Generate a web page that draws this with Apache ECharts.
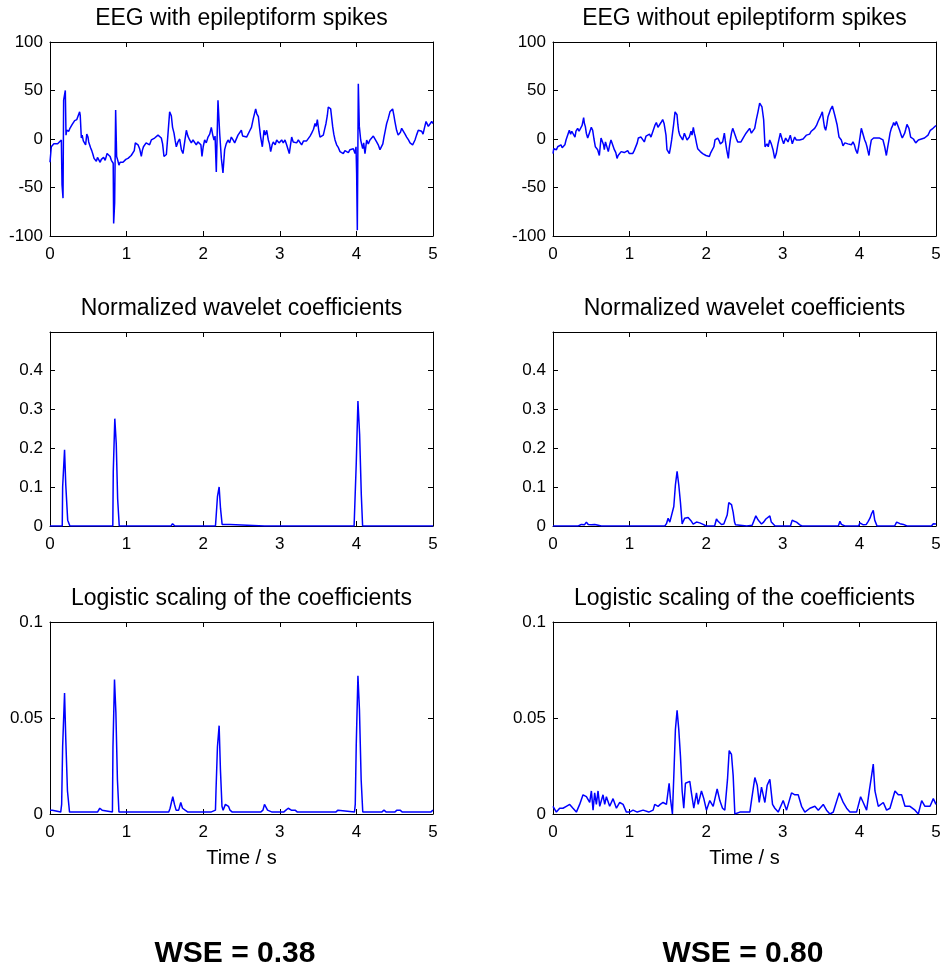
<!DOCTYPE html>
<html><head><meta charset="utf-8">
<script src="https://cdn.jsdelivr.net/npm/echarts@6/dist/echarts.min.js"></script>
<style>html,body{margin:0;padding:0;background:#fff}#c{width:944px;height:971px}</style>
</head><body><div id="c"></div>
<script>
// ---- data (time in s, value) ----
const eegSpikes = [[0,-24],[0.017,-8],[0.05,-5],[0.1,-5],[0.148,-1],[0.157,-47],[0.170,-61],[0.178,40],[0.200,50],[0.209,4],[0.218,9],[0.226,7],[0.235,10],[0.245,8],[0.26,11],[0.279,12],[0.29,15],[0.30,13],[0.322,19],[0.335,17],[0.35,20],[0.362,22],[0.375,21],[0.387,28],[0.395,24],[0.409,1],[0.42,4],[0.435,-2],[0.453,-1],[0.465,-6],[0.48,5],[0.496,2],[0.505,-3],[0.518,-5],[0.53,-9],[0.545,-12],[0.561,-16],[0.575,-20],[0.59,-18],[0.605,-23],[0.62,-19],[0.64,-20],[0.655,-24],[0.67,-21],[0.685,-23],[0.70,-19],[0.72,-22],[0.735,-20],[0.745,-15],[0.757,-13],[0.77,-15],[0.785,-18],[0.801,-22],[0.815,-20],[0.825,-25],[0.831,-87],[0.844,-66],[0.857,30],[0.870,-18],[0.885,-22],[0.9,-27],[0.915,-24],[0.93,-26],[0.953,-24],[0.97,-22],[0.99,-21],[1.018,-20],[1.04,-19],[1.06,-17],[1.084,-18],[1.1,-12],[1.114,-4],[1.13,-3],[1.149,-6],[1.17,-10],[1.192,-18],[1.205,-12],[1.22,-8],[1.236,-6],[1.255,-4],[1.279,-3],[1.3,-6],[1.323,-1],[1.345,-2],[1.366,1],[1.39,0],[1.410,4],[1.43,2],[1.453,1],[1.47,-5],[1.488,-18],[1.519,-16],[1.54,5],[1.562,28],[1.584,24],[1.60,12],[1.619,6],[1.635,-2],[1.649,-8],[1.67,-3],[1.693,0],[1.715,-11],[1.736,-15],[1.76,-2],[1.780,9],[1.80,3],[1.823,-1],[1.845,-4],[1.867,-1],[1.89,-3],[1.910,-6],[1.93,-3],[1.954,-1],[1.97,-6],[1.984,-18],[2.0,-8],[2.019,-1],[2.04,-4],[2.063,2],[2.085,5],[2.106,12],[2.125,4],[2.141,-1],[2.155,3],[2.171,-34],[2.193,40],[2.215,6],[2.237,-20],[2.258,-35],[2.280,-11],[2.30,-5],[2.324,-1],[2.345,-4],[2.367,2],[2.39,-1],[2.411,-4],[2.43,-6],[2.454,4],[2.475,6],[2.498,9],[2.515,3],[2.533,5],[2.567,2],[2.59,4],[2.611,9],[2.63,12],[2.654,21],[2.685,31],[2.700,26],[2.720,23],[2.735,12],[2.750,2],[2.772,-8],[2.794,9],[2.81,4],[2.829,9],[2.850,-1],[2.865,-5],[2.881,-13],[2.9,-6],[2.915,-3],[2.94,-6],[2.959,-1],[2.99,-4],[3.024,-1],[3.045,-4],[3.068,-1],[3.089,-6],[3.124,-15],[3.14,-6],[3.155,2],[3.175,-3],[3.198,-1],[3.22,-4],[3.242,-1],[3.265,-3],[3.285,-6],[3.31,-2],[3.329,-4],[3.35,-2],[3.372,-1],[3.395,3],[3.416,6],[3.44,10],[3.460,16],[3.475,13],[3.490,20],[3.51,8],[3.525,2],[3.545,0],[3.568,4],[3.585,10],[3.603,16],[3.62,24],[3.633,33],[3.664,31],[3.690,13],[3.705,5],[3.721,-1],[3.742,-6],[3.765,-9],[3.786,-13],[3.81,-11],[3.829,-15],[3.85,-12],[3.873,-11],[3.895,-14],[3.916,-11],[3.94,-13],[3.960,-10],[3.982,-15],[3.995,-8],[4.003,-35],[4.012,-94],[4.025,57],[4.038,13],[4.056,-1],[4.07,-6],[4.082,-10],[4.095,-4],[4.112,-15],[4.134,-1],[4.155,-5],[4.177,-1],[4.2,1],[4.221,3],[4.24,1],[4.264,-3],[4.285,-6],[4.308,-11],[4.330,-13],[4.345,-5],[4.360,2],[4.38,10],[4.395,16],[4.415,21],[4.438,28],[4.473,31],[4.49,24],[4.503,18],[4.525,9],[4.545,4],[4.560,2],[4.575,7],[4.591,11],[4.612,9],[4.635,5],[4.656,2],[4.68,-1],[4.700,-4],[4.734,-6],[4.765,-1],[4.785,4],[4.808,9],[4.83,10],[4.852,8],[4.87,5],[4.887,11],[4.909,18],[4.939,13],[4.96,15],[4.983,18],[5.0,16]];

const eegNoSpikes = [[0,-15],[0.01,-10],[0.03,-9],[0.045,-11],[0.061,-8],[0.08,-9],[0.104,-6],[0.12,-9],[0.139,-10],[0.155,-6],[0.170,-1],[0.192,1],[0.213,9],[0.23,5],[0.245,8],[0.257,6],[0.27,8],[0.287,2],[0.30,8],[0.322,11],[0.34,8],[0.366,9],[0.38,14],[0.400,22],[0.41,16],[0.422,13],[0.435,6],[0.453,1],[0.47,5],[0.487,9],[0.50,12],[0.518,9],[0.535,0],[0.553,-8],[0.568,-6],[0.583,-11],[0.605,-17],[0.627,1],[0.648,-1],[0.660,-6],[0.670,-11],[0.685,-3],[0.701,-5],[0.722,-13],[0.74,-6],[0.757,-1],[0.779,-1],[0.801,-11],[0.82,-14],[0.836,-20],[0.850,-17],[0.866,-15],[0.89,-13],[0.909,-11],[0.93,-14],[0.953,-13],[0.975,-12],[0.997,-15],[1.02,-13],[1.040,-15],[1.06,-12],[1.084,-10],[1.1,-4],[1.114,1],[1.13,-1],[1.149,2],[1.17,0],[1.192,-3],[1.215,3],[1.236,2],[1.26,5],[1.279,2],[1.3,7],[1.314,9],[1.33,14],[1.349,17],[1.37,12],[1.388,13],[1.41,17],[1.432,20],[1.45,16],[1.462,18],[1.475,4],[1.488,-11],[1.505,-13],[1.519,-15],[1.535,-8],[1.549,-1],[1.575,15],[1.593,28],[1.619,25],[1.63,15],[1.641,8],[1.655,4],[1.671,2],[1.693,-1],[1.715,6],[1.735,2],[1.750,-1],[1.765,-3],[1.780,2],[1.802,8],[1.815,4],[1.832,12],[1.845,6],[1.858,2],[1.875,-5],[1.889,-10],[1.905,-8],[1.923,-13],[1.94,-11],[1.954,-15],[1.975,-14],[1.997,-17],[2.02,-16],[2.041,-18],[2.06,-14],[2.084,-15],[2.1,-8],[2.115,-1],[2.150,1],[2.17,-2],[2.185,-5],[2.215,-3],[2.237,6],[2.25,-2],[2.267,-11],[2.289,-20],[2.30,-10],[2.315,-1],[2.33,6],[2.346,11],[2.36,8],[2.376,6],[2.395,0],[2.411,-3],[2.43,-5],[2.454,-3],[2.47,-1],[2.489,2],[2.505,4],[2.520,6],[2.54,7],[2.567,11],[2.59,6],[2.611,8],[2.633,11],[2.654,20],[2.676,28],[2.698,37],[2.728,33],[2.750,20],[2.768,-8],[2.794,-5],[2.81,-8],[2.829,-1],[2.850,-5],[2.872,-11],[2.894,-20],[2.915,-15],[2.937,-5],[2.968,6],[2.994,-1],[3.011,-5],[3.037,1],[3.068,-3],[3.098,4],[3.124,-5],[3.155,2],[3.175,-1],[3.198,1],[3.22,-1],[3.242,1],[3.265,0],[3.285,1],[3.31,4],[3.329,6],[3.35,5],[3.372,8],[3.395,9],[3.416,11],[3.44,14],[3.460,18],[3.475,16],[3.490,23],[3.516,28],[3.533,18],[3.545,12],[3.560,9],[3.575,15],[3.590,23],[3.621,30],[3.647,34],[3.677,25],[3.708,15],[3.734,2],[3.764,-1],[3.786,-7],[3.81,-4],[3.829,-3],[3.85,-5],[3.873,-3],[3.895,-6],[3.916,-3],[3.935,-6],[3.951,-11],[3.973,-15],[3.99,-8],[4.003,-1],[4.025,11],[4.047,9],[4.069,-1],[4.085,-4],[4.099,-8],[4.11,-12],[4.125,-17],[4.14,-8],[4.156,-1],[4.186,1],[4.2,-1],[4.221,1],[4.245,0],[4.264,1],[4.285,0],[4.308,-1],[4.330,-8],[4.352,-17],[4.37,-8],[4.386,-1],[4.4,6],[4.417,11],[4.435,14],[4.447,17],[4.465,14],[4.482,18],[4.503,18],[4.525,9],[4.545,4],[4.560,1],[4.575,3],[4.591,6],[4.605,10],[4.621,15],[4.635,13],[4.647,11],[4.669,2],[4.691,1],[4.705,0],[4.721,-1],[4.735,-4],[4.752,-3],[4.77,-1],[4.786,1],[4.81,0],[4.830,2],[4.85,1],[4.865,-1],[4.896,4],[4.91,2],[4.926,9],[4.945,7],[4.961,11],[4.98,12],[5.0,14]];

const waveletSpikes = [[0,0],[0.16,0],[0.165,0.1],[0.187,0.1],[0.19,0.195],[0.203,0.195],[0.206,0.105],[0.228,0.105],[0.231,0.015],[0.25,0.01],[0.26,0],[0.82,0],[0.826,0.14],[0.843,0.14],[0.846,0.275],[0.862,0.275],[0.865,0.21],[0.88,0.21],[0.883,0.07],[0.9,0.07],[0.904,0],[1.58,0],[1.6,0.006],[1.63,0],[2.16,0],[2.169,0.025],[2.183,0.025],[2.186,0.075],[2.205,0.075],[2.208,0.10],[2.223,0.10],[2.226,0.045],[2.244,0.045],[2.247,0.004],[2.35,0.004],[2.355,0],[2.8,0],[2.82,0.004],[2.84,0],[3.97,0],[3.985,0.005],[3.998,0.16],[4.017,0.16],[4.02,0.32],[4.039,0.32],[4.042,0.235],[4.061,0.235],[4.064,0.08],[4.078,0.08],[4.081,0],[5,0]];

const waveletNoSpikes = [[0,0],[0.15,0],[0.174,0.003],[0.2,0],[0.33,0],[0.348,0.005],[0.37,0.004],[0.392,0.008],[0.41,0.003],[0.436,0.01],[0.46,0.004],[0.479,0.009],[0.50,0.003],[0.523,0.008],[0.545,0.004],[0.566,0.007],[0.59,0.002],[0.610,0.006],[0.63,0],[0.72,0],[0.740,0.005],[0.76,0],[0.81,0],[0.828,0.004],[0.85,0],[0.94,0],[0.958,0.004],[0.98,0],[1.31,0],[1.328,0.004],[1.35,0],[1.46,0],[1.481,0.006],[1.503,0.02],[1.525,0.01],[1.546,0.008],[1.577,0.05],[1.598,0.105],[1.620,0.14],[1.642,0.105],[1.664,0.06],[1.686,0.005],[1.700,0.012],[1.720,0.02],[1.742,0.015],[1.764,0.022],[1.785,0.018],[1.807,0.012],[1.83,0.005],[1.851,0.003],[1.873,0.01],[1.895,0.012],[1.916,0.008],[1.938,0.01],[1.96,0.004],[1.982,0.002],[2.0,0],[2.03,0],[2.047,0.005],[2.07,0],[2.11,0],[2.134,0.018],[2.155,0.012],[2.178,0.008],[2.20,0.004],[2.230,0.005],[2.255,0.006],[2.274,0.028],[2.295,0.06],[2.315,0.058],[2.330,0.055],[2.352,0.035],[2.37,0.01],[2.382,0.003],[2.40,0],[2.53,0],[2.548,0.002],[2.60,0.002],[2.62,0],[2.648,0.026],[2.67,0.018],[2.692,0.012],[2.722,0.005],[2.75,0.01],[2.779,0.018],[2.80,0.022],[2.831,0.026],[2.85,0.01],[2.875,0.005],[2.9,0],[2.99,0],[3.005,0.003],[3.02,0],[3.10,0],[3.123,0.015],[3.15,0.012],[3.179,0.01],[3.2,0.005],[3.223,0.003],[3.25,0],[3.40,0],[3.419,0.004],[3.44,0],[3.53,0],[3.550,0.004],[3.57,0],[3.725,0],[3.746,0.012],[3.765,0.004],[3.789,0.002],[3.81,0],[3.99,0],[4.007,0.008],[4.03,0.008],[4.050,0.003],[4.09,0.004],[4.115,0.012],[4.138,0.02],[4.16,0.032],[4.181,0.04],[4.2,0.015],[4.212,0.01],[4.23,0],[4.29,0],[4.312,0.003],[4.33,0],[4.46,0],[4.486,0.01],[4.51,0.006],[4.530,0.006],[4.551,0.008],[4.575,0.004],[4.595,0.003],[4.62,0],[4.81,0],[4.834,0.003],[4.85,0],[4.94,0],[4.965,0.006],[5,0.005]];

const logisticSpikes = [[0,0.002],[0.03,0.002],[0.04,0.001],[0.14,0.001],[0.152,0.005],[0.162,0.005],[0.165,0.035],[0.186,0.035],[0.19,0.063],[0.203,0.063],[0.206,0.039],[0.225,0.039],[0.228,0.012],[0.25,0.012],[0.255,0.001],[0.44,0.001],[0.46,0.002],[0.48,0.001],[0.5,0.002],[0.52,0.001],[0.54,0.002],[0.56,0.001],[0.62,0.001],[0.65,0.003],[0.68,0.002],[0.70,0.001],[0.815,0.001],[0.822,0.035],[0.838,0.035],[0.842,0.07],[0.856,0.07],[0.86,0.053],[0.876,0.053],[0.88,0.018],[0.895,0.018],[0.9,0.001],[1.2,0.001],[1.22,0.002],[1.24,0.001],[1.31,0.001],[1.33,0.002],[1.35,0.001],[1.55,0.001],[1.568,0.003],[1.585,0.006],[1.603,0.009],[1.625,0.005],[1.646,0.002],[1.68,0.002],[1.707,0.006],[1.73,0.003],[1.764,0.002],[1.8,0.001],[1.85,0.001],[1.98,0.001],[2.0,0.002],[2.03,0.001],[2.1,0.001],[2.16,0.002],[2.167,0.012],[2.183,0.012],[2.186,0.035],[2.205,0.035],[2.208,0.046],[2.22,0.046],[2.225,0.023],[2.24,0.023],[2.245,0.004],[2.26,0.002],[2.29,0.005],[2.31,0.006],[2.33,0.004],[2.35,0.002],[2.38,0.001],[2.7,0.001],[2.72,0.002],[2.75,0.001],[2.78,0.002],[2.80,0.005],[2.82,0.006],[2.84,0.002],[2.866,0.002],[2.9,0.001],[3.05,0.001],[3.08,0.002],[3.11,0.003],[3.15,0.002],[3.2,0.002],[3.23,0.001],[3.68,0.001],[3.7,0.002],[3.73,0.001],[3.76,0.002],[3.78,0.001],[3.975,0.001],[3.985,0.005],[3.998,0.036],[4.015,0.036],[4.02,0.072],[4.035,0.072],[4.04,0.054],[4.058,0.054],[4.062,0.018],[4.078,0.018],[4.083,0.001],[4.14,0.001],[4.16,0.002],[4.18,0.001],[4.33,0.001],[4.36,0.002],[4.39,0.001],[4.5,0.001],[4.53,0.002],[4.57,0.002],[4.6,0.001],[4.97,0.001],[4.99,0.002],[5,0.002]];

const logisticNoSpikes = [[0,0.004],[0.044,0.001],[0.087,0.003],[0.13,0.003],[0.174,0.004],[0.218,0.005],[0.261,0.003],[0.305,0.001],[0.348,0.005],[0.370,0.006],[0.392,0.01],[0.436,0.009],[0.479,0.006],[0.501,0.012],[0.523,0.002],[0.544,0.011],[0.566,0.005],[0.588,0.012],[0.610,0.004],[0.653,0.01],[0.675,0.005],[0.697,0.009],[0.740,0.004],[0.784,0.008],[0.828,0.003],[0.871,0.006],[0.915,0.005],[0.958,0.001],[1.0,0.001],[1.045,0.002],[1.1,0.001],[1.176,0.002],[1.2,0.001],[1.25,0.001],[1.307,0.002],[1.328,0.005],[1.35,0.005],[1.372,0.004],[1.40,0.005],[1.437,0.006],[1.481,0.005],[1.516,0.016],[1.533,0.008],[1.559,0.0],[1.581,0.024],[1.598,0.044],[1.620,0.054],[1.642,0.044],[1.664,0.03],[1.686,0.012],[1.707,0.003],[1.729,0.016],[1.755,0.015],[1.786,0.017],[1.807,0.011],[1.838,0.003],[1.873,0.011],[1.895,0.005],[1.938,0.012],[1.969,0.008],[2.003,0.002],[2.047,0.007],[2.091,0.004],[2.143,0.013],[2.178,0.007],[2.213,0.003],[2.243,0.002],[2.278,0.018],[2.300,0.033],[2.330,0.031],[2.352,0.02],[2.374,0.0],[2.439,0.001],[2.5,0.001],[2.570,0.001],[2.591,0.007],[2.635,0.019],[2.666,0.015],[2.692,0.006],[2.722,0.014],[2.744,0.01],[2.766,0.006],[2.796,0.015],[2.831,0.018],[2.866,0.005],[2.896,0.003],[2.940,0.001],[3.005,0.007],[3.049,0.002],[3.114,0.011],[3.158,0.01],[3.201,0.01],[3.245,0.004],[3.288,0.001],[3.354,0.003],[3.419,0.004],[3.463,0.002],[3.528,0.005],[3.571,0.002],[3.615,0.0],[3.659,0.001],[3.737,0.011],[3.789,0.006],[3.833,0.003],[3.876,0.001],[3.963,0.001],[4.016,0.009],[4.050,0.006],[4.094,0.002],[4.129,0.012],[4.159,0.02],[4.181,0.026],[4.203,0.012],[4.247,0.004],[4.312,0.006],[4.355,0.002],[4.399,0.003],[4.464,0.012],[4.508,0.01],[4.551,0.01],[4.595,0.004],[4.660,0.004],[4.726,0.002],[4.769,0.0],[4.813,0.007],[4.856,0.004],[4.922,0.004],[4.965,0.008],[5.0,0.005]];

const panelTitles = ['EEG with epileptiform spikes','EEG without epileptiform spikes','Normalized wavelet coefficients','Normalized wavelet coefficients','Logistic scaling of the coefficients','Logistic scaling of the coefficients'];
const wseLabels = ['WSE = 0.38','WSE = 0.80'];
const xAxisName = 'Time / s';
const yRanges = [[-100,100,50],[-100,100,50],[0,0.497,0.1],[0,0.497,0.1],[0,0.1,0.05],[0,0.1,0.05]];
const seriesData = [eegSpikes, eegNoSpikes, waveletSpikes, waveletNoSpikes, logisticSpikes, logisticNoSpikes];

// ---- layout ----
const FONT = '"Liberation Sans", Arial, Helvetica, sans-serif';
const colLeft = [50, 553];
const rowTop = [42, 332, 622];
const rowH = [194, 194, 192];
const W = 383;

const grids = [], xAxes = [], yAxes = [], series = [], graphics = [];
for (let i = 0; i < 6; i++) {
  const r = Math.floor(i / 2), c = i % 2;
  grids.push({left: colLeft[c], top: rowTop[r], width: W, height: rowH[r], containLabel: false});
  const line = {onZero: false, lineStyle: {color: '#000', width: 1}};
  const tick = {inside: true, length: 5, lineStyle: {color: '#000', width: 1}};
  const lbl = {color: '#000', fontSize: 17, fontFamily: FONT};
  xAxes.push({type: 'value', gridIndex: i, position: 'bottom', min: 0, max: 5, interval: 1,
    axisLine: line, axisTick: tick, splitLine: {show: false},
    axisLabel: Object.assign({margin: 10}, lbl),
    name: r === 2 ? xAxisName : '', nameLocation: 'middle', nameGap: 34,
    nameTextStyle: {color: '#000', fontSize: 20, fontFamily: FONT}});
  xAxes.push({type: 'value', gridIndex: i, position: 'top', min: 0, max: 5, interval: 1,
    axisLine: line, axisTick: tick, splitLine: {show: false}, axisLabel: {show: false}});
  const [ymin, ymax, yint] = yRanges[i];
  yAxes.push({type: 'value', gridIndex: i, position: 'left', min: ymin, max: ymax, interval: yint,
    axisLine: line, axisTick: tick, splitLine: {show: false},
    axisLabel: Object.assign({margin: 7, showMaxLabel: r !== 1}, lbl)});
  yAxes.push({type: 'value', gridIndex: i, position: 'right', min: ymin, max: ymax, interval: yint,
    axisLine: line, axisTick: tick, splitLine: {show: false}, axisLabel: {show: false}});
  series.push({type: 'line', xAxisIndex: 2 * i, yAxisIndex: 2 * i, data: seriesData[i],
    showSymbol: false, symbol: 'none', lineStyle: {color: '#0000ff', width: 1.5}, animation: false});
  graphics.push({type: 'text', x: colLeft[c] + W / 2, y: rowTop[r] - 23,
    style: {text: panelTitles[i], fill: '#000', font: '23px ' + FONT, textAlign: 'center', textVerticalAlign: 'middle'}});
}
graphics.push({type: 'text', x: 235, y: 954, style: {text: wseLabels[0], fill: '#000', font: 'bold 30px ' + FONT, textAlign: 'center', textVerticalAlign: 'middle'}});
graphics.push({type: 'text', x: 743, y: 954, style: {text: wseLabels[1], fill: '#000', font: 'bold 30px ' + FONT, textAlign: 'center', textVerticalAlign: 'middle'}});

const chart = echarts.init(document.getElementById('c'), null, {renderer: 'canvas'});
chart.setOption({
  animation: false,
  backgroundColor: '#fff',
  grid: grids, xAxis: xAxes, yAxis: yAxes, series: series, graphic: graphics
});
</script></body></html>
